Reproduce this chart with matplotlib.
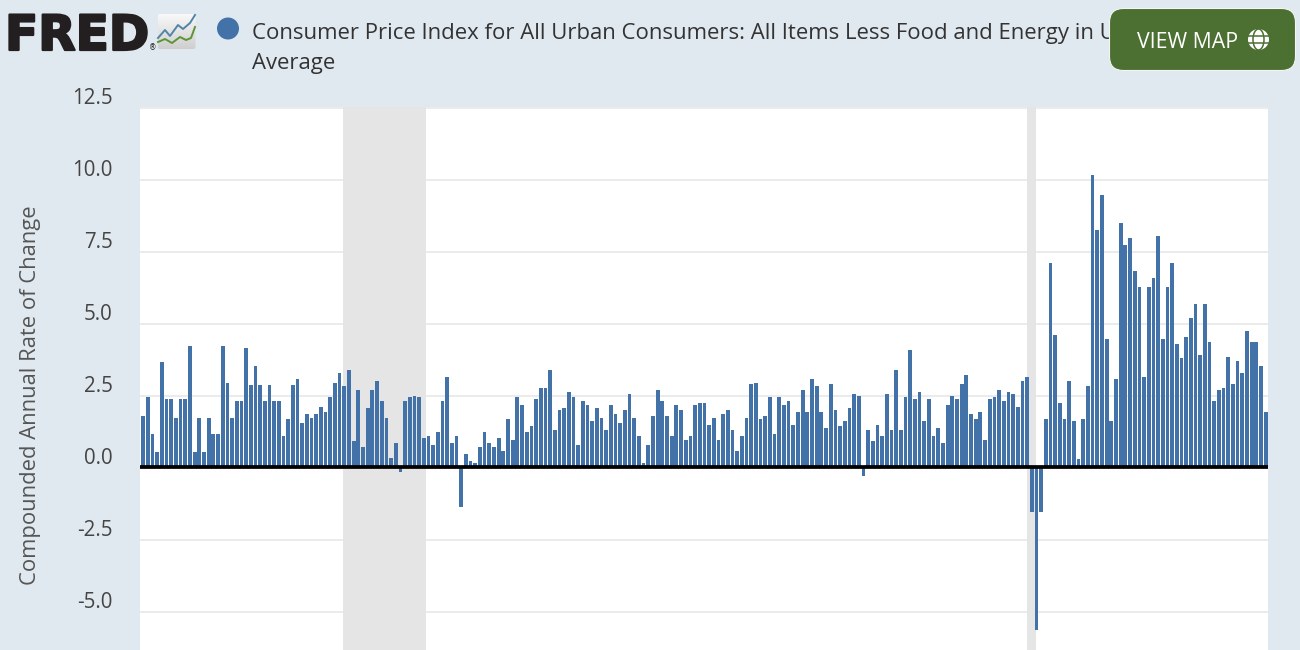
import numpy as np
import matplotlib
matplotlib.use("Agg")
import matplotlib.pyplot as plt
import matplotlib.patheffects as pe
from matplotlib.patches import FancyBboxPatch, Circle, Ellipse
from matplotlib.transforms import ScaledTranslation

plt.rcParams['font.family'] = ['Open Sans', 'DejaVu Sans']

# Monthly compounded annual rate of change, starting May 2004
rates_2004_2009 = [1.82,2.45,1.17,0.54,3.67,2.38,2.38,1.75,2.38,2.38,4.24,0.54,1.75,0.54,1.75,1.17,1.17,4.24,2.96,1.75,
                   2.33,2.33,4.18,2.89,3.54,2.89,2.33,2.89,2.33,2.33,1.11,1.69,2.89,3.09,1.56,1.88,1.75,1.88,2.13,1.94,
                   2.45,2.96,3.29,2.84,3.41,0.93,2.71,0.73,2.07,2.71,3.03,2.33,1.75,0.36,0.86,-0.15,2.33,2.45,2.51,2.45,
                   1.05,1.11,0.80,1.24,2.33,3.15,0.86,1.11,-1.34]
rates_2010_2015 = [0.49,0.23,0.16,0.74,1.24,0.86,0.74,1.05,0.60,1.69,0.98,2.45,2.20,1.24,1.44,2.38,2.78,2.78,3.41,1.31,
                   2.01,2.07,2.65,2.45,0.80,2.33,2.20,1.62,2.07,1.75,1.31,2.20,1.88,1.56,2.01,2.58,1.75,1.11,0.16,0.80,
                   1.82,2.71,2.33,1.82,1.11,2.20,2.01,0.98,1.11,2.20,2.26,2.26,1.49,1.75,0.98,1.88,2.01,1.31,0.60,1.11,
                   1.75,2.91]
rates_2015_2020 = [2.96,1.69,1.82,2.45,1.18,2.45,2.20,2.33,1.49,1.94,2.71,1.94,3.09,2.84,1.94,1.37,2.91,2.01,1.44,1.62,
                   2.07,2.58,2.51,-0.27,1.31,0.93,1.49,1.11,2.58,1.31,3.41,1.31,2.45,4.11,2.38,2.65,1.62,2.38,1.11,1.37,
                   0.86,2.20,2.51,2.38,2.91,3.22,1.88,1.69,1.94,0.98,2.38,2.45,2.71,2.33,2.65,2.58,2.13,3.03,3.15]
rates_2020_2024 = [-1.54,-5.63,-1.54,1.70,7.11,4.62,2.27,1.70,3.03,1.63,0.30,1.70,2.85,10.16,8.25,9.47,4.49,1.63,3.09,8.52,
                   7.74,8.00,6.85,6.28,3.16,6.28,6.61,8.06,4.49,6.28,7.11,4.31,3.80,4.56,5.20,5.70,3.92,5.70,4.36,2.33,
                   2.71,2.78,3.85,2.90,3.73,3.29,4.75,4.36,4.36,3.54,1.94]
rates = rates_2004_2009 + rates_2010_2015 + rates_2015_2020 + rates_2020_2024
assert len(rates) == 241, len(rates)
months = np.arange(len(rates))

# Recessions as month positions
recessions = [(42.65, 60.55), (188.9, 190.8)]
y_ticks = [12.5, 10.0, 7.5, 5.0, 2.5, 0.0, -2.5, -5.0]
y_tick_labels = ['12.5', '10.0', '7.5', '5.0', '2.5', '0.0', '-2.5', '-5.0']
title_line1 = 'Consumer Price Index for All Urban Consumers: All Items Less Food and Energy in U'
title_line2 = 'Average'
y_label = 'Compounded Annual Rate of Change'

W, H = 1300, 650
BG = '#E1E9F0'
BLUE = '#4272A8'
fig = plt.figure(figsize=(13, 6.5), dpi=100, facecolor=BG)

ax = fig.add_axes([139.5 / W, 0, (1268 - 139.5) / W, (650 - 107.3) / H], facecolor='white')
ax.set_xlim(-0.79, 240.5)
ax.set_ylim(-6.32, 12.52)
for s in ax.spines.values():
    s.set_visible(False)
ax.set_xticks([])
ax.set_yticks(y_ticks, y_tick_labels)
ax.tick_params(axis='y', length=0, pad=19.5, labelsize=14.8, labelcolor='#444444')
ax.yaxis.grid(True, color='#E6E6E6', linewidth=1.1, zorder=1)
ax.set_axisbelow(True)
off = ScaledTranslation(0, 0.115, fig.dpi_scale_trans)
for lab in ax.get_yticklabels():
    lab.set_transform(lab.get_transform() + off)

for a, b in recessions:
    ax.axvspan(a, b, color='#E5E5E5', lw=0, zorder=1.5)
ax.bar(months, rates, width=0.8, color=BLUE, linewidth=0, zorder=2)
ax.axhline(0.045, color='black', linewidth=2.7, zorder=3, solid_capstyle='butt')

fig.text(31 / W, 1 - 395 / H, y_label, rotation=90, ha='center', va='center',
         fontsize=15.8, color='#555555')

# Header overlay in pixel coordinates
ov = fig.add_axes([0, 0, 1, 1], facecolor='none')
ov.set_xlim(0, W)
ov.set_ylim(H, 0)
ov.axis('off')

ov.text(5, 50, 'FRED', family='DejaVu Sans', weight='bold', fontsize=35, color='#231F20',
        ha='left', va='baseline',
        path_effects=[pe.withStroke(linewidth=1.6, foreground='#231F20')])
ov.text(149, 50, '®', family='DejaVu Sans', fontsize=5.5, color='#231F20', ha='left', va='baseline')

# Small chart icon
grad = np.linspace(0, 1, 64).reshape(-1, 1)
grad = np.dstack([0.98 - 0.17 * grad] * 3)
box = FancyBboxPatch((157.5, 14), 38, 35.5, boxstyle='round,pad=0,rounding_size=3',
                     facecolor='none', edgecolor='none')
ov.add_patch(box)
im = ov.imshow(grad, extent=(157.5, 195.5, 49.5, 14), aspect='auto', zorder=1)
im.set_clip_path(box)
ov.set_xlim(0, W)
ov.set_ylim(H, 0)
ov.plot([158, 165, 170, 178, 183, 190, 195], [38, 30, 36, 25, 29, 23, 15], color='#4F86A8', lw=1.4, zorder=2)
ov.plot([158, 165, 172, 180, 186, 191, 195], [42, 39, 43, 37, 40, 38, 27], color='#5C9436', lw=1.4, zorder=2)

ov.add_patch(Circle((228, 28.5), 11, facecolor=BLUE, edgecolor='none'))
ov.text(252, 33, title_line1, fontsize=15.95, color='#333333', ha='left', va='center', zorder=2)
ov.text(252, 63, title_line2, fontsize=15.95, color='#333333', ha='left', va='center', zorder=2)

# Button
ov.add_patch(FancyBboxPatch((1109.5, 8.5), 186, 62, boxstyle='round,pad=0,rounding_size=14',
                            facecolor='#4C6F32', edgecolor='#F2F5F0', linewidth=0.8, zorder=5))
ov.text(1137, 42, 'VIEW MAP', fontsize=15.3, color='white', ha='left', va='center', zorder=6)
gx, gy, gr = 1258.5, 39.5, 10.5
ov.add_patch(Circle((gx, gy), gr, facecolor='white', edgecolor='none', zorder=6))
ov.add_patch(Ellipse((gx, gy), gr * 1.05, gr * 2, facecolor='none', edgecolor='#4C6F32', linewidth=1.1, zorder=7))
ov.plot([gx - gr, gx + gr], [gy - 3.4, gy - 3.4], color='#4C6F32', lw=1.1, zorder=7)
ov.plot([gx - gr, gx + gr], [gy + 3.4, gy + 3.4], color='#4C6F32', lw=1.1, zorder=7)

fig.savefig('out.png', dpi=100, facecolor=BG)
